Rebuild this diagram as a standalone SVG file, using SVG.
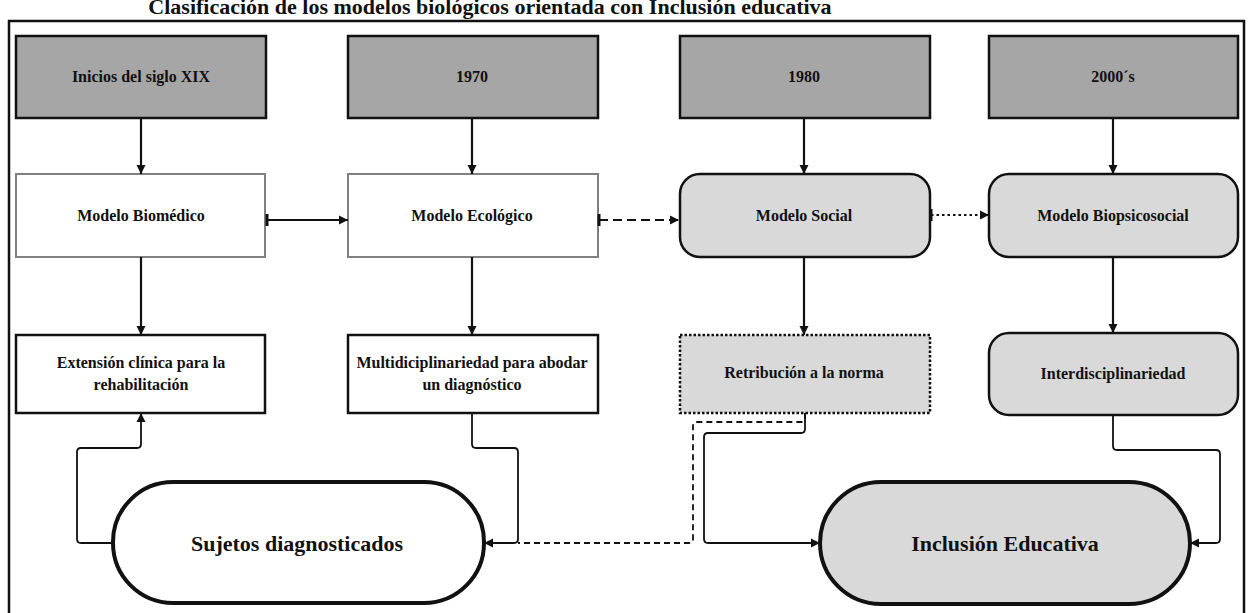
<svg xmlns="http://www.w3.org/2000/svg" width="1250" height="613" viewBox="0 0 1250 613">
<defs>
<style>
.lbl{font-family:"Liberation Serif","Times New Roman",serif;font-weight:bold;font-size:16px;fill:#111;text-anchor:middle;dominant-baseline:central}
.big{font-size:22px}
.yr{fill:#a6a6a6;stroke:#111;stroke-width:2.5}
.wm{fill:#fff;stroke:#808080;stroke-width:2}
.wb{fill:#fff;stroke:#111;stroke-width:2.5}
.gr{fill:#d9d9d9;stroke:#111;stroke-width:2.5}
.ln{fill:none;stroke:#111;stroke-width:2.2}
.thin{fill:none;stroke:#111;stroke-width:1.8}
</style>
<marker id="ah" markerUnits="userSpaceOnUse" markerWidth="10" markerHeight="10" refX="9" refY="5" orient="auto"><path d="M0,0.5 L9,5 L0,9.5 z" fill="#111"/></marker>
<marker id="tk" markerUnits="userSpaceOnUse" markerWidth="4" markerHeight="12" refX="2" refY="6" orient="auto"><rect x="0.5" y="0" width="3" height="12" fill="#111"/></marker>
</defs>
<text x="490" y="14" class="lbl" style="font-size:22px;dominant-baseline:auto">Clasificación de los modelos biológicos orientada con Inclusión educativa</text>
<rect x="9" y="21" width="1235" height="610" fill="none" stroke="#111" stroke-width="2.5"/>
<g id="n-inicios"><rect class="yr" x="16" y="36" width="250" height="82"/><text class="lbl" x="141" y="76">Inicios del siglo XIX</text></g>
<g id="n-1970"><rect class="yr" x="348" y="36" width="250" height="82"/><text class="lbl" x="472" y="76">1970</text></g>
<g id="n-1980"><rect class="yr" x="680" y="36" width="250" height="82"/><text class="lbl" x="804" y="76">1980</text></g>
<g id="n-2000"><rect class="yr" x="989" y="36" width="249" height="82"/><text class="lbl" x="1113" y="76">2000´s</text></g>
<g id="n-biomedico"><rect class="wm" x="16" y="174" width="249" height="83"/><text class="lbl" x="141" y="215">Modelo Biomédico</text></g>
<g id="n-ecologico"><rect class="wm" x="348" y="174" width="250" height="83"/><text class="lbl" x="472" y="215">Modelo Ecológico</text></g>
<g id="n-social"><rect class="gr" x="680" y="174" width="250" height="83" rx="20"/><text class="lbl" x="804" y="215">Modelo Social</text></g>
<g id="n-biopsico"><rect class="gr" x="989" y="174" width="249" height="83" rx="20"/><text class="lbl" x="1113" y="215">Modelo Biopsicosocial</text></g>
<g id="n-extension"><rect class="wb" x="16" y="335" width="249" height="78"/><text class="lbl" x="141" y="362">Extensión clínica para la</text><text class="lbl" x="141" y="384">rehabilitación</text></g>
<g id="n-multi"><rect class="wb" x="348" y="335" width="250" height="78"/><text class="lbl" x="472" y="362">Multidiciplinariedad para abodar</text><text class="lbl" x="472" y="384">un diagnóstico</text></g>
<g id="n-retribucion"><rect class="gr" x="680" y="335" width="250" height="78" stroke-dasharray="2.5,2"/><text class="lbl" x="804" y="372">Retribución a la norma</text></g>
<g id="n-inter"><rect class="gr" x="989" y="333" width="249" height="82" rx="20"/><text class="lbl" x="1113" y="373">Interdisciplinariedad</text></g>
<g id="n-sujetos"><rect x="113" y="482" width="371" height="121" rx="60" fill="#fff" stroke="#111" stroke-width="4"/><text class="lbl big" x="297" y="543">Sujetos diagnosticados</text></g>
<g id="n-inclusion"><rect x="820" y="482" width="370" height="122" rx="61" fill="#d9d9d9" stroke="#111" stroke-width="4"/><text class="lbl big" x="1005" y="543">Inclusión Educativa</text></g>
<g id="connectors">
<path class="ln" d="M141,118 V174" marker-end="url(#ah)"/>
<path class="ln" d="M472,118 V174" marker-end="url(#ah)"/>
<path class="ln" d="M804,118 V174" marker-end="url(#ah)"/>
<path class="ln" d="M1113,118 V174" marker-end="url(#ah)"/>
<path class="ln" d="M141,257 V335" marker-end="url(#ah)"/>
<path class="ln" d="M472,257 V335" marker-end="url(#ah)"/>
<path class="ln" d="M804,257 V335" marker-end="url(#ah)"/>
<path class="ln" d="M1113,257 V333" marker-end="url(#ah)"/>
<path class="ln" d="M267,220 H348" marker-start="url(#tk)" marker-end="url(#ah)"/>
<path class="ln" d="M599,220 H679" stroke-dasharray="9,5" marker-start="url(#tk)" marker-end="url(#ah)"/>
<path class="ln" d="M931,215 H989" stroke-dasharray="2.5,3" marker-start="url(#tk)" marker-end="url(#ah)"/>
<path class="thin" d="M113,543 H81 Q77,543 77,539 V452 Q77,448 81,448 H137 Q141,448 141,444 V413" marker-end="url(#ah)"/>
<path class="thin" d="M472,413 V444 Q472,448 476,448 H514 Q518,448 518,452 V539 Q518,543 514,543 H484" marker-end="url(#ah)"/>
<path class="thin" d="M805,413 V418 Q805,422 801,422 H697 Q693,422 693,426 V539 Q693,543 689,543 H518" stroke-dasharray="6,4"/>
<path class="thin" d="M805,413 V429 Q805,433 801,433 H708 Q704,433 704,437 V539 Q704,543 708,543 H820" marker-end="url(#ah)"/>
<path class="thin" d="M1113,415 V446 Q1113,450 1117,450 H1216 Q1220,450 1220,454 V539 Q1220,543 1216,543 H1190" marker-end="url(#ah)"/>
</g>
</svg>
